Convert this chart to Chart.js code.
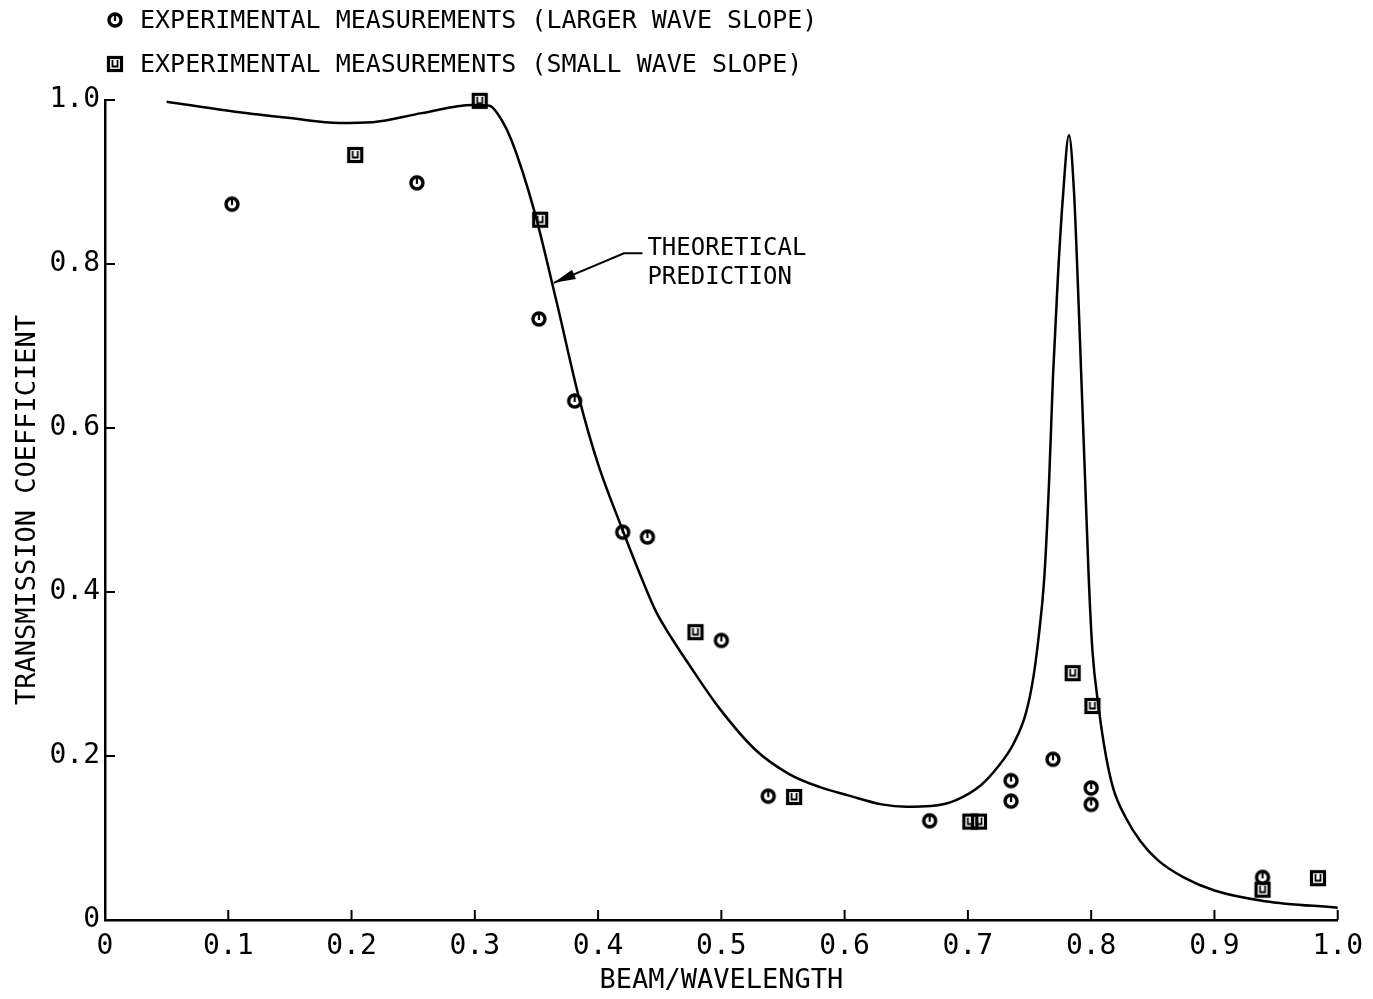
<!DOCTYPE html>
<html>
<head>
<meta charset="utf-8">
<script src="https://cdn.jsdelivr.net/npm/chart.js@4.4.1/dist/chart.umd.min.js"></script>
<style>
  html, body { margin: 0; padding: 0; background: #fff; }
</style>
</head>
<body>
<canvas id="myChart" width="1373" height="999"></canvas>
<script>
// experimental points, larger wave slope (circles)
const largerX = [0.103, 0.253, 0.352, 0.381, 0.420, 0.440, 0.500, 0.538, 0.669, 0.735, 0.735, 0.769, 0.800, 0.800, 0.939];
const largerY = [0.873, 0.899, 0.733, 0.633, 0.473, 0.467, 0.341, 0.151, 0.121, 0.170, 0.145, 0.196, 0.161, 0.141, 0.052];

// experimental points, small wave slope (squares)
const smallX = [0.203, 0.304, 0.353, 0.479, 0.559, 0.702, 0.709, 0.785, 0.801, 0.939, 0.984];
const smallY = [0.933, 0.999, 0.854, 0.351, 0.150, 0.120, 0.120, 0.301, 0.261, 0.037, 0.051];

// theoretical prediction curve
const theoryX = [0.050, 0.109, 0.150, 0.190, 0.217, 0.257, 0.298, 0.312, 0.322, 0.330, 0.348, 0.366, 0.385, 0.400, 0.419, 0.435, 0.447, 0.460, 0.474, 0.498, 0.528, 0.555, 0.580, 0.603, 0.630, 0.650, 0.670, 0.690, 0.711, 0.725, 0.737, 0.747, 0.753, 0.757, 0.762, 0.766, 0.769, 0.773, 0.777, 0.782, 0.786, 0.789, 0.792, 0.795, 0.798, 0.801, 0.806, 0.812, 0.818, 0.828, 0.840, 0.854, 0.875, 0.900, 0.941, 1.000];
const theoryY = [0.998, 0.985, 0.978, 0.972, 0.973, 0.984, 0.994, 0.993, 0.975, 0.950, 0.866, 0.756, 0.634, 0.556, 0.479, 0.418, 0.376, 0.343, 0.311, 0.259, 0.207, 0.178, 0.162, 0.152, 0.141, 0.138, 0.139, 0.146, 0.165, 0.188, 0.215, 0.252, 0.295, 0.340, 0.418, 0.540, 0.662, 0.784, 0.880, 0.957, 0.890, 0.784, 0.662, 0.540, 0.418, 0.329, 0.260, 0.200, 0.160, 0.125, 0.096, 0.073, 0.052, 0.036, 0.023, 0.015];

const xTickValues = [0, 0.1, 0.2, 0.3, 0.4, 0.5, 0.6, 0.7, 0.8, 0.9, 1.0];
const xTickLabels = ['0', '0.1', '0.2', '0.3', '0.4', '0.5', '0.6', '0.7', '0.8', '0.9', '1.0'];
const yTickValues = [0, 0.2, 0.4, 0.6, 0.8, 1.0];
const yTickLabels = ['0', '0.2', '0.4', '0.6', '0.8', '1.0'];

const labelLarger = 'EXPERIMENTAL MEASUREMENTS (LARGER WAVE SLOPE)';
const labelSmall = 'EXPERIMENTAL MEASUREMENTS (SMALL WAVE SLOPE)';
const FONT = '"DejaVu Sans Mono", monospace';

function toPoints(xs, ys) {
  return xs.map((x, i) => ({x: x, y: ys[i]}));
}

// plotter style symbols
function circleMark() {
  const c = document.createElement('canvas');
  c.width = 22; c.height = 22;
  const g = c.getContext('2d');
  g.strokeStyle = '#000';
  g.lineWidth = 3.4;
  g.beginPath();
  g.arc(11, 11, 6, 0, Math.PI * 2);
  g.stroke();
  g.lineWidth = 2.2;
  g.beginPath();
  g.moveTo(11, 6);
  g.lineTo(11, 12);
  g.stroke();
  return c;
}

function squareMark() {
  const c = document.createElement('canvas');
  c.width = 22; c.height = 22;
  const g = c.getContext('2d');
  g.strokeStyle = '#000';
  g.lineWidth = 3.2;
  g.strokeRect(4.5, 4.5, 13, 13);
  g.lineWidth = 1.8;
  g.beginPath();
  g.moveTo(8.5, 7);
  g.lineTo(8.5, 13.5);
  g.lineTo(13.5, 13.5);
  g.lineTo(13.5, 7);
  g.stroke();
  return c;
}

const circleImg = circleMark();
const squareImg = squareMark();

const extras = {
  id: 'extras',
  afterDraw(chart) {
    const {ctx} = chart;
    const x = chart.scales.x, y = chart.scales.y;
    ctx.save();
    ctx.strokeStyle = '#000';
    ctx.fillStyle = '#000';
    ctx.lineWidth = 2;

    // ticks point into the plot
    xTickValues.forEach(v => {
      const px = x.getPixelForValue(v);
      ctx.beginPath();
      ctx.moveTo(px, y.bottom);
      ctx.lineTo(px, y.bottom - 10);
      ctx.stroke();
    });
    yTickValues.forEach(v => {
      const py = y.getPixelForValue(v);
      ctx.beginPath();
      ctx.moveTo(x.left, py);
      ctx.lineTo(x.left + 10, py);
      ctx.stroke();
    });

    // legend
    ctx.font = '25px ' + FONT;
    ctx.textBaseline = 'middle';
    ctx.textAlign = 'left';
    ctx.drawImage(circleImg, 104, 9);
    ctx.fillText(labelLarger, 140, 21);
    ctx.drawImage(squareImg, 104, 53);
    ctx.fillText(labelSmall, 140, 65);

    // annotation with arrow
    const tipX = x.getPixelForValue(0.364), tipY = y.getPixelForValue(0.777);
    const cX = x.getPixelForValue(0.421), cY = y.getPixelForValue(0.813);
    const eX = x.getPixelForValue(0.436);
    ctx.lineWidth = 2;
    ctx.beginPath();
    ctx.moveTo(eX, cY);
    ctx.lineTo(cX, cY);
    ctx.lineTo(tipX, tipY);
    ctx.stroke();
    const ang = Math.atan2(tipY - cY, tipX - cX);
    const len = 22, hw = 5;
    ctx.beginPath();
    ctx.moveTo(tipX, tipY);
    ctx.lineTo(tipX - len * Math.cos(ang) + hw * Math.sin(ang), tipY - len * Math.sin(ang) - hw * Math.cos(ang));
    ctx.lineTo(tipX - len * Math.cos(ang) - hw * Math.sin(ang), tipY - len * Math.sin(ang) + hw * Math.cos(ang));
    ctx.closePath();
    ctx.fill();
    ctx.font = '24px ' + FONT;
    ctx.fillText('THEORETICAL', x.getPixelForValue(0.440), y.getPixelForValue(0.818));
    ctx.fillText('PREDICTION', x.getPixelForValue(0.440), y.getPixelForValue(0.783));
    ctx.restore();
  }
};

const ctx = document.getElementById('myChart');

new Chart(ctx, {
  type: 'scatter',
  data: {
    datasets: [{
      label: labelLarger,
      data: toPoints(largerX, largerY),
      pointStyle: circleImg,
      clip: false,
    }, {
      label: labelSmall,
      data: toPoints(smallX, smallY),
      pointStyle: squareImg,
      clip: false,
    }, {
      label: 'THEORETICAL PREDICTION',
      data: toPoints(theoryX, theoryY),
      showLine: true,
      pointRadius: 0,
      borderColor: '#000',
      borderWidth: 2.5,
      cubicInterpolationMode: 'monotone',
      clip: false,
    }],
  },
  options: {
    responsive: false,
    animation: false,
    events: [],
    layout: {padding: {top: 100, right: 33, bottom: 0, left: 0}},
    plugins: {
      legend: {display: false},
      tooltip: {enabled: false},
    },
    scales: {
      x: {
        type: 'linear',
        min: 0,
        max: 1,
        afterFit: s => { s.height = 79; },
        afterBuildTicks: s => { s.ticks = xTickValues.map(v => ({value: v})); },
        ticks: {
          callback: (v, i) => xTickLabels[i],
          font: {family: FONT, size: 28},
          color: '#000',
          padding: 10,
          maxRotation: 0,
          autoSkip: false,
        },
        grid: {display: false, drawTicks: false},
        border: {color: '#000', width: 2.5},
        title: {
          display: true,
          text: 'BEAM/WAVELENGTH',
          font: {family: FONT, size: 27},
          color: '#000',
          padding: {top: 0, bottom: 2},
        },
      },
      y: {
        type: 'linear',
        min: 0,
        max: 1,
        afterFit: s => { s.width = 105; },
        afterBuildTicks: s => { s.ticks = yTickValues.map(v => ({value: v})); },
        ticks: {
          callback: (v, i) => yTickLabels[i],
          font: {family: FONT, size: 28},
          color: '#000',
          padding: 5,
          autoSkip: false,
        },
        grid: {display: false, drawTicks: false},
        border: {color: '#000', width: 2.5},
        title: {
          display: true,
          text: 'TRANSMISSION COEFFICIENT',
          font: {family: FONT, size: 27},
          color: '#000',
          padding: {top: 12, bottom: 0},
        },
      },
    },
  },
  plugins: [extras],
});
</script>
</body>
</html>
